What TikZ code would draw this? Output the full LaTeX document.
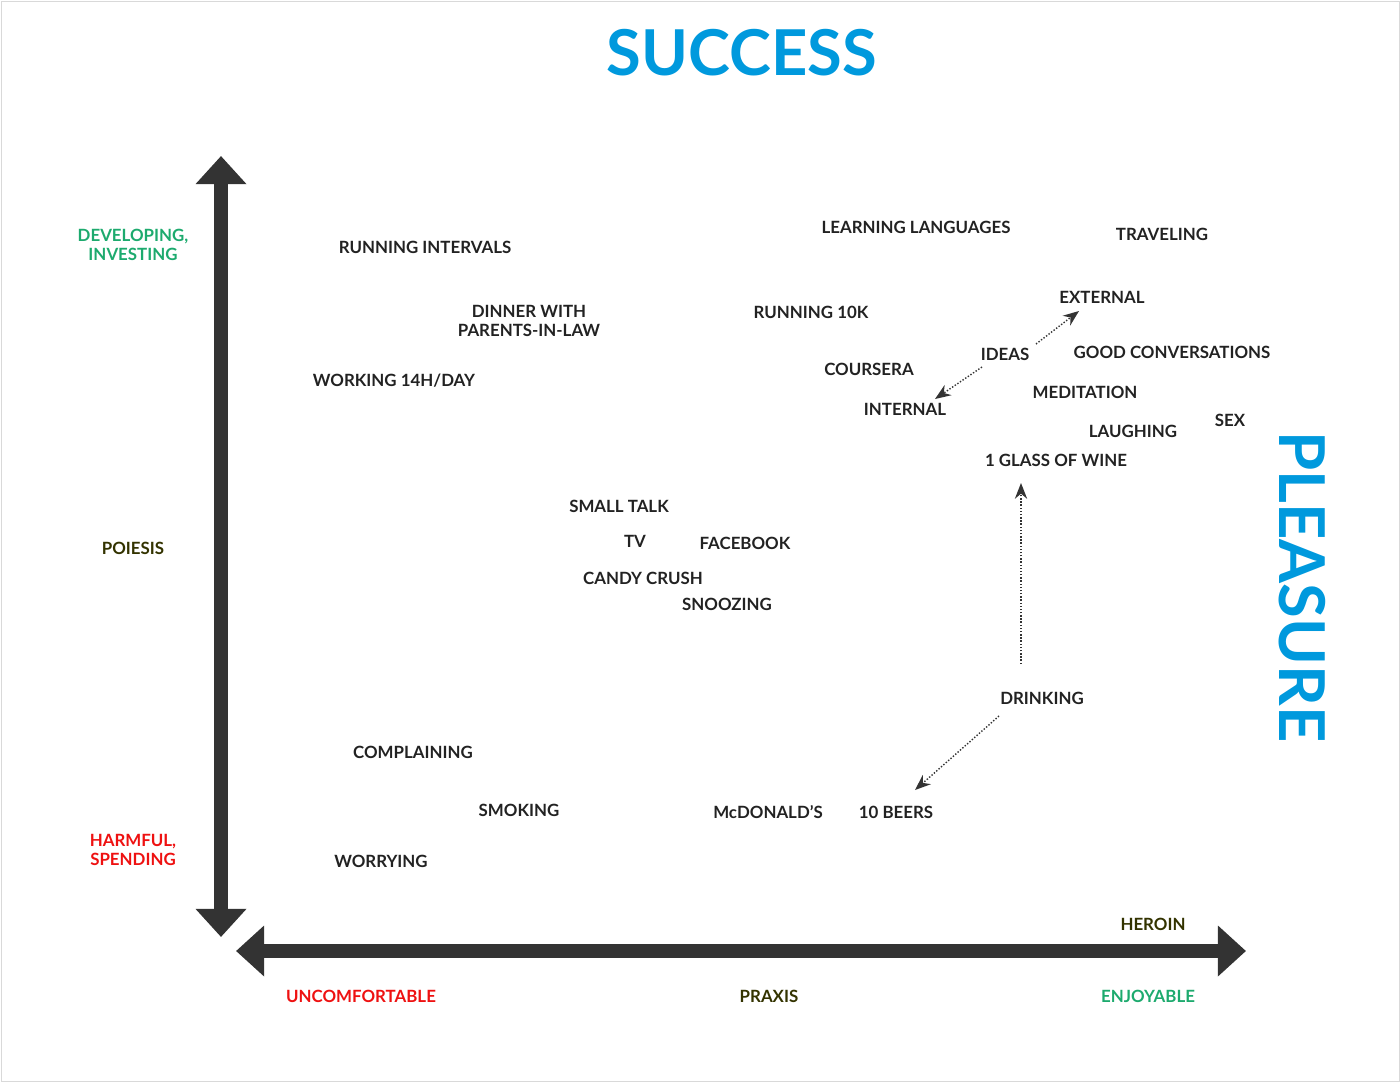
\documentclass[tikz,border=0pt]{standalone}
\usepackage{fontspec}
\setmainfont{Lato}
\usetikzlibrary{arrows.meta}
\definecolor{dk}{HTML}{222222}
\definecolor{ax}{HTML}{333333}
\definecolor{blu}{HTML}{0099DD}
\definecolor{grn}{HTML}{1DAA6E}
\definecolor{olv}{HTML}{333300}
\definecolor{rd}{HTML}{EE1111}
\begin{document}
\begin{tikzpicture}[x=0.02cm,y=-0.02cm,
 lbl/.style={font=\bfseries\fontsize{9.6}{11}\selectfont,text=dk,inner sep=0},
 side/.style={lbl,align=center},
 dots/.style={densely dotted,thick,draw=ax,-{Stealth[length=9pt,width=7pt]}},
 axis/.style={line width=8pt,draw=ax,{Triangle[length=16pt,width=28pt]}-{Triangle[length=16pt,width=28pt]}}]
\useasboundingbox (0,0) rectangle (1400,1082);
\draw[gray!30] (1,1) rectangle (1399,1081);
\node[font=\bfseries\fontsize{36}{40}\selectfont,text=blu] (succ) at (742,53) {SUCCESS};
\node[font=\bfseries\fontsize{36}{40}\selectfont,text=blu,rotate=-90] (pl) at (1302,587) {PLEASURE};
\coordinate (vt) at (221,156); \coordinate (vb) at (221,937);
\coordinate (hl) at (236,951); \coordinate (hr) at (1246,951);
\draw[axis] (vb) -- (vt);
\draw[axis] (hl) -- (hr);
\node[side,text=grn] (dev) at (133,245) {DEVELOPING,\\INVESTING};
\node[side,text=olv] (poi) at (133,548) {POIESIS};
\node[side,text=rd] (harm) at (133,850) {HARMFUL,\\SPENDING};
\node[lbl,text=rd] (unc) at (361,996) {UNCOMFORTABLE};
\node[lbl,text=olv] (prax) at (769,996) {PRAXIS};
\node[lbl,text=grn] (enj) at (1148,996) {ENJOYABLE};
\node[lbl,text=olv] (her) at (1153,924) {HEROIN};
\node[lbl] (ri) at (425,247) {RUNNING INTERVALS};
\node[side] (din) at (529,321) {DINNER WITH\\PARENTS-IN-LAW};
\node[lbl] (wk) at (394,381) {WORKING 14H/DAY};
\node[lbl] (ll) at (916,227) {LEARNING LANGUAGES};
\node[lbl] (tr) at (1162,234) {TRAVELING};
\node[lbl] (r10) at (811,312) {RUNNING 10K};
\node[lbl] (ext) at (1102,297) {EXTERNAL};
\node[lbl] (ideas) at (1005,354) {IDEAS};
\node[lbl] (gc) at (1172,352) {GOOD CONVERSATIONS};
\node[lbl] (cou) at (869,369) {COURSERA};
\node[lbl] (int) at (905,409) {INTERNAL};
\node[lbl] (med) at (1085,392) {MEDITATION};
\node[lbl] (sex) at (1230,420) {SEX};
\node[lbl] (lau) at (1133,431) {LAUGHING};
\node[lbl] (wine) at (1056,460) {1 GLASS OF WINE};
\node[lbl] (st) at (619,506) {SMALL TALK};
\node[lbl] (tv) at (635,541) {TV};
\node[lbl] (fb) at (745,543) {FACEBOOK};
\node[lbl] (cc) at (643,578) {CANDY CRUSH};
\node[lbl] (sn) at (727,604) {SNOOZING};
\node[lbl] (drk) at (1042,698) {DRINKING};
\node[lbl] (com) at (413,752) {COMPLAINING};
\node[lbl] (smo) at (519,810) {SMOKING};
\node[lbl] (mcd) at (768,812) {McDONALD’S};
\node[lbl] (b10) at (896,812) {10 BEERS};
\node[lbl] (wor) at (381,861) {WORRYING};
\coordinate (ia) at (1036,344); \coordinate (ib) at (1079,311);
\coordinate (ic) at (982,367); \coordinate (id) at (935,399);
\coordinate (da) at (1021,664); \coordinate (db) at (1021,483);
\coordinate (dc) at (999,716); \coordinate (dd) at (915,790);
\draw[dots] (ia) -- (ib);
\draw[dots] (ic) -- (id);
\draw[dots] (da) -- (db);
\draw[dots] (dc) -- (dd);
\end{tikzpicture}
\end{document}
